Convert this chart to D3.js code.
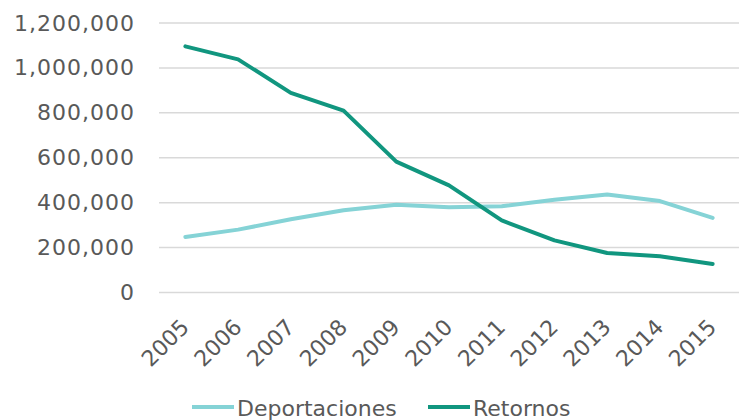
<!DOCTYPE html>
<html><head><meta charset="utf-8">
<script src="https://cdn.jsdelivr.net/npm/d3@7"></script>
<style>
html,body{margin:0;padding:0;background:#fff;}
text{font-family:"DejaVu Sans",sans-serif;fill:#595959;}
</style></head>
<body><svg id="c" width="739" height="420"></svg>
<script>
const years = ["2005","2006","2007","2008","2009","2010","2011","2012","2013","2014","2015"];
const deportaciones = [247000,280000,326000,366000,391000,380000,384000,413000,436000,407000,332000];
const retornos = [1096000,1038000,889000,810000,583000,477000,321000,232000,176000,161000,127000];
const yTicks = [0,200000,400000,600000,800000,1000000,1200000];
const seriesNames = ["Deportaciones","Retornos"];
const colors = ["#85d3d6","#11967f"];

const svg = d3.select("#c");
const x = d3.scaleBand().domain(years).range([159,739]).padding(0);
const y = d3.scaleLinear().domain([0,1200000]).range([292.5,23]);
const fmt = d3.format(",");

// gridlines
svg.append("g").selectAll("line").data(yTicks).join("line")
  .attr("x1",159).attr("x2",739)
  .attr("y1",d=>y(d)).attr("y2",d=>y(d))
  .attr("stroke","#d9d9d9").attr("stroke-width",1.5);

// y axis labels
const yAxis = svg.append("g").attr("transform","translate(159,0)")
  .call(d3.axisLeft(y).tickValues(yTicks).tickFormat(fmt).tickSize(0).tickPadding(24));
yAxis.select(".domain").remove();
yAxis.selectAll("text").style("font-size","22px").style("letter-spacing","1px")
  .attr("fill","#595959").attr("font-family","DejaVu Sans");

// x axis labels
const xAxis = svg.append("g").attr("transform","translate(0,292.5)")
  .call(d3.axisBottom(x).tickSize(0));
xAxis.select(".domain").remove();
xAxis.selectAll("text").style("font-size","22px")
  .attr("fill","#595959").attr("font-family","DejaVu Sans")
  .attr("text-anchor","end").attr("dy",null).attr("y",null)
  .attr("transform","translate(5,36) rotate(-45)");

// lines
const cx = d => x(d) + x.bandwidth()/2;
const line = d3.line().x((d,i)=>cx(years[i])).y(d=>y(d));
[deportaciones, retornos].forEach((s,i)=>{
  svg.append("path").datum(s).attr("d",line)
    .attr("fill","none").attr("stroke",colors[i]).attr("stroke-width",4)
    .attr("stroke-linejoin","round").attr("stroke-linecap","round");
});

// legend
const legX = [192,428];
const lg = svg.append("g");
seriesNames.forEach((n,i)=>{
  lg.append("line").attr("x1",legX[i]).attr("x2",legX[i]+42).attr("y1",407).attr("y2",407)
    .attr("stroke",colors[i]).attr("stroke-width",4);
  lg.append("text").attr("x",legX[i]+45).attr("y",416).style("font-size","22px").text(n);
});
</script></body></html>
